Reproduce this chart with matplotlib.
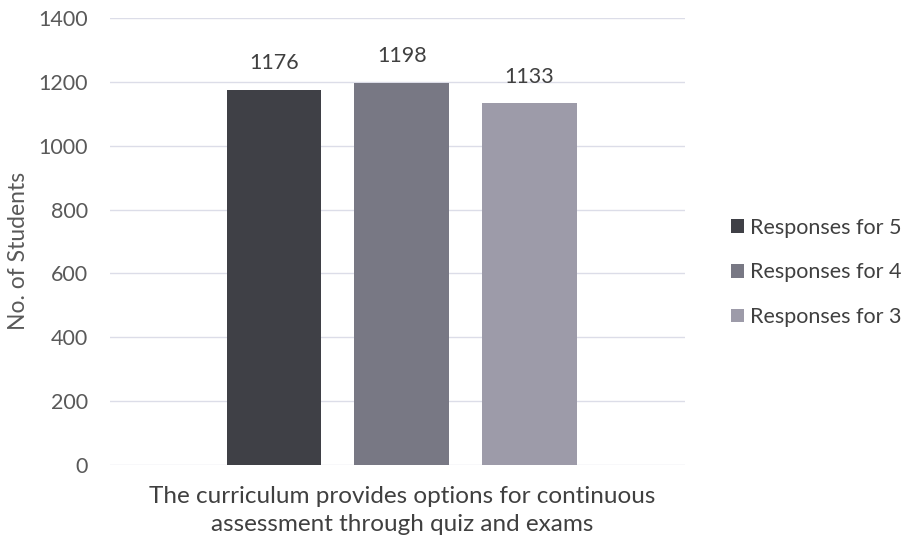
import matplotlib
matplotlib.use("Agg")
import matplotlib.pyplot as plt
import numpy as np

plt.rcParams['font.family'] = ['Lato', 'DejaVu Sans']

category = "The curriculum provides options for continuous\nassessment through quiz and exams"
series = ["Responses for 5", "Responses for 4", "Responses for 3"]
values = [1176, 1198, 1133]
colors = ["#3f4046", "#787884", "#9d9ba9"]
yticks = [0, 200, 400, 600, 800, 1000, 1200, 1400]

fig = plt.figure(figsize=(9.09, 5.49), dpi=100)
ax = fig.add_axes([0.121, 0.153, 0.633, 0.814])

width = 0.165
offsets = np.array([-0.222, 0.0, 0.222]) + 0.007
bars = []
for i, (s, v, c) in enumerate(zip(series, values, colors)):
    b = ax.bar(offsets[i], v, width=width, color=c, label=s, zorder=3)
    bars.append(b)
    ax.bar_label(b, labels=[f"{v}"], padding=12, fontsize=15.5, color="#404040")

ax.set_xlim(-0.5, 0.5)
ax.set_ylim(0, 1400)
ax.set_yticks(yticks)
ax.set_yticklabels([str(t) for t in yticks], fontsize=15.5, color="#595959")
ax.set_xticks([0.007])
ax.set_xticklabels([category], fontsize=17.5, color="#404040", linespacing=1.45)
ax.tick_params(axis='y', length=0, pad=16)
ax.tick_params(axis='x', length=0, pad=15)
ax.set_ylabel("No. of Students", fontsize=16.5, color="#595959")
ax.yaxis.set_label_coords(-0.14, 0.48)
ax.grid(axis='y', color="#dcdde8", linewidth=1, zorder=0)
for sp in ax.spines.values():
    sp.set_visible(False)

leg = fig.legend(handles=[b[0] for b in bars], labels=series, loc='center left',
                 bbox_to_anchor=(0.804, 0.504), frameon=False, fontsize=15.5,
                 handlelength=0.6, handleheight=0.6, handletextpad=0.3,
                 labelspacing=1.15, labelcolor="#404040", borderaxespad=0, borderpad=0)

fig.savefig("out.png", dpi=100)
